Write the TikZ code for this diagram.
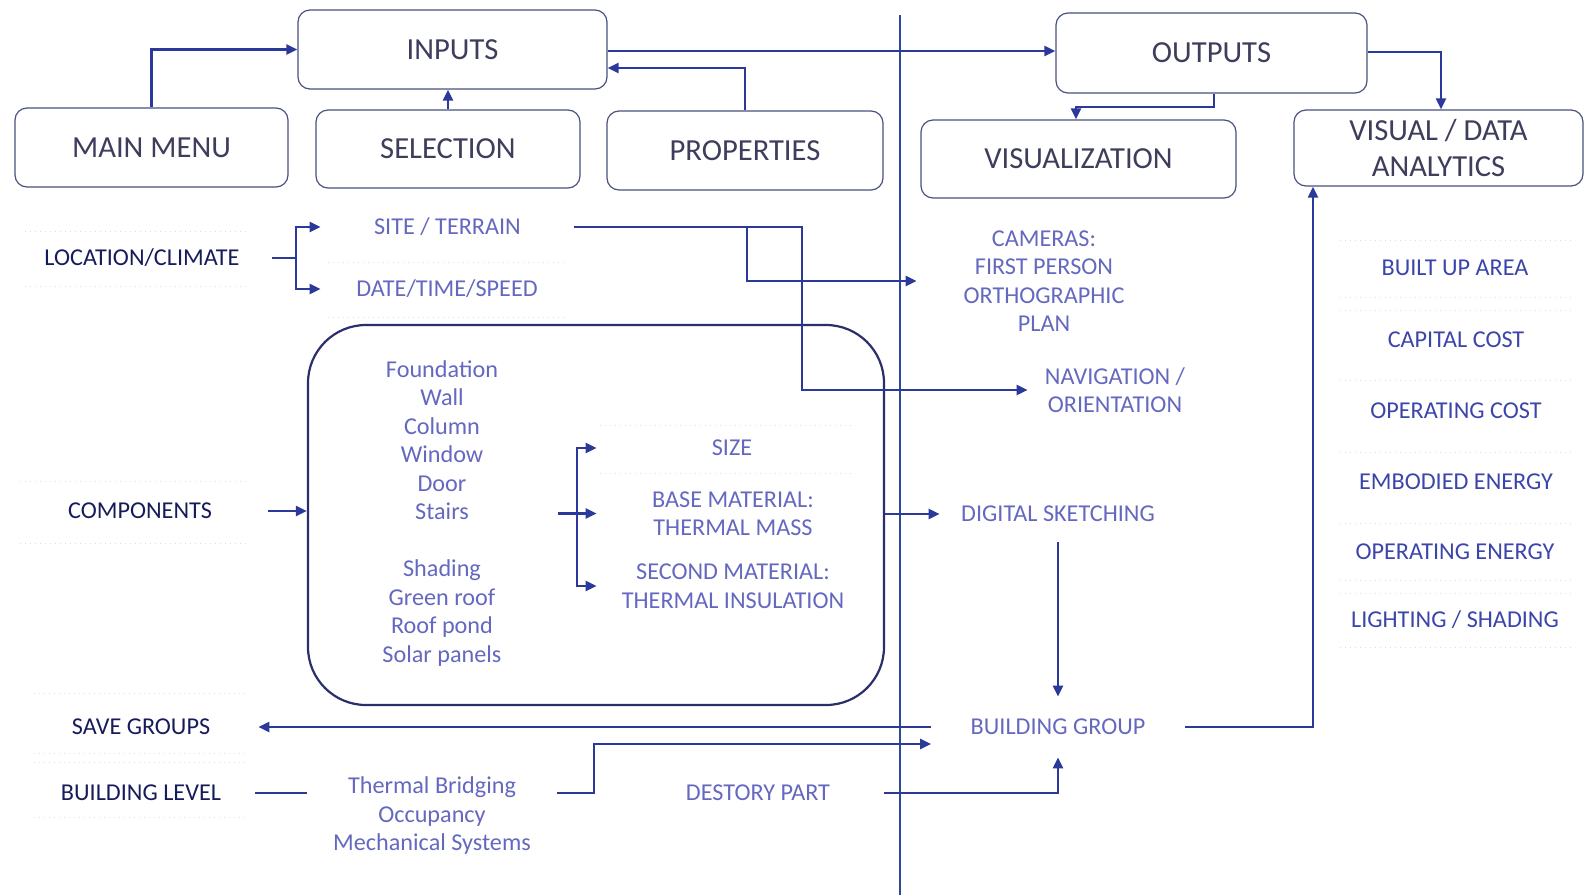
\documentclass[tikz,border=0pt]{standalone}
\usepackage{fontspec}
\setmainfont{Carlito}
\usetikzlibrary{arrows.meta}

\definecolor{boxline}{HTML}{4A5080}
\definecolor{boxtext}{HTML}{3D3D5C}
\definecolor{darklab}{HTML}{161C5A}
\definecolor{lightlab}{HTML}{6468BF}
\definecolor{metriclab}{HTML}{3B45AA}
\definecolor{conn}{HTML}{2B3A9A}
\definecolor{panelline}{HTML}{2A2F6A}
\definecolor{divider}{HTML}{2D4A9A}
\definecolor{framec}{HTML}{D8DCEE}

\tikzset{
  box/.style={draw=boxline, line width=0.6pt, rounded corners=6pt, align=center,
    inner sep=0pt, text=boxtext, font=\fontsize{15.3}{18}\selectfont},
  lab/.style={align=center, inner sep=0pt, font=\fontsize{12.1}{14.25}\selectfont},
  darklabel/.style={lab, text=darklab},
  lightlabel/.style={lab, text=lightlab},
  metric/.style={lab, text=metriclab},
  link/.style={draw=conn, line width=1.1pt},
  arr/.style={link, -{Triangle[length=5.5pt,width=5pt]}},
  panelbox/.style={draw=panelline, line width=1.1pt, rounded corners=29pt, inner sep=0pt},
  frameline/.style={draw=framec, dotted, line width=0.5pt},
}

\begin{document}
\begin{tikzpicture}[x=0.5pt, y=-0.5pt]
\useasboundingbox (0,0) rectangle (1587,895);

% faint frames of the text labels
\foreach \ya/\yb/\xa/\xb in {231/286/25/248, 481/543/20/250, 693/753/34/247, 762/817/34/247,
    262/317/328/568, 425/473/600/855}{
  \draw[frameline] (\xa,\ya) -- (\xb,\ya);
  \draw[frameline] (\xa,\yb) -- (\xb,\yb);
}
\foreach \yy in {240,297,310,380,452,523,580,593,647}{
  \draw[frameline] (1340,\yy) -- (1572,\yy);
}

% top-level boxes
\node[box, minimum width=154.5pt, minimum height=39.5pt] (inputs) at (452.5,49.5) {INPUTS};
\node[box, minimum width=136.5pt, minimum height=39.5pt] (mainmenu) at (151.5,147.5) {MAIN MENU};
\node[box, minimum width=132pt, minimum height=39pt] (selection) at (448,149) {SELECTION};
\node[box, minimum width=138pt, minimum height=39.5pt] (properties) at (745,150.5) {PROPERTIES};
\node[box, minimum width=155.5pt, minimum height=40pt] (outputs) at (1211.5,53) {OUTPUTS};
\node[box, minimum width=157.5pt, minimum height=39pt] (visualization) at (1078.5,159) {VISUALIZATION};
\node[box, minimum width=144.5pt, minimum height=38pt] (visual) at (1438.5,148) {VISUAL / DATA\\ANALYTICS};

% divider between inputs and outputs
\coordinate (divtop) at (900,15);
\coordinate (divbot) at (900,895);
\draw[draw=divider, line width=0.9pt] (divtop) -- (divbot);

% input side labels
\node[darklabel, minimum width=130pt] (loc) at (142,258) {LOCATION/CLIMATE};
\node[darklabel, minimum width=128pt] (comp) at (140,511) {COMPONENTS};
\node[darklabel, minimum width=117pt] (save) at (141,727) {SAVE GROUPS};
\node[darklabel, minimum width=114pt] (blevel) at (141,793) {BUILDING LEVEL};

\node[lightlabel, minimum width=126.5pt] (site) at (447.5,227) {SITE / TERRAIN};
\node[lightlabel, minimum width=126pt] (date) at (447,289) {DATE/TIME/SPEED};

% component panel
\node[panelbox, minimum width=288pt, minimum height=190pt] (panel) at (596,515) {};
\node[lightlabel, minimum width=116pt] (parts) at (442,513.5)
  {Foundation\\Wall\\Column\\Window\\Door\\Stairs\\[14.25pt]Shading\\Green roof\\Roof pond\\Solar panels};
\node[lightlabel, minimum width=135pt] (size) at (732,448) {SIZE};
\node[lightlabel, minimum width=136pt] (base) at (733,513.5) {BASE MATERIAL:\\THERMAL MASS};
\node[lightlabel, minimum width=136pt] (second) at (733,586) {SECOND MATERIAL:\\THERMAL INSULATION};

\node[lightlabel, minimum width=125pt] (thermal) at (432,816) {Thermal Bridging\\Occupancy\\Mechanical Systems};
\node[lightlabel, minimum width=126pt] (destroy) at (758,793) {DESTORY PART};

% output side labels
\node[lightlabel, minimum width=127pt] (cameras) at (1044,281) {CAMERAS:\\FIRST PERSON\\ORTHOGRAPHIC\\PLAN};
\node[lightlabel, minimum width=87pt] (nav) at (1115,390) {NAVIGATION /\\ORIENTATION};
\node[lightlabel, minimum width=118pt, minimum height=28pt] (digital) at (1058,514) {DIGITAL SKETCHING};
\node[lightlabel, minimum width=126.5pt, minimum height=30pt] (bgroup) at (1058,727) {BUILDING GROUP};

\node[metric] (area) at (1455,268) {BUILT UP AREA};
\node[metric] (capcost) at (1456,340) {CAPITAL COST};
\node[metric] (opcost) at (1456,411) {OPERATING COST};
\node[metric] (embodied) at (1456,482) {EMBODIED ENERGY};
\node[metric] (openergy) at (1455,552) {OPERATING ENERGY};
\node[metric] (lighting) at (1455,620) {LIGHTING / SHADING};

% top row connections
\draw[arr] (mainmenu.north) |- (inputs.west);
\draw[arr] (selection.north) -- (selection.north |- inputs.south);
\draw[arr] (properties.north) |- (inputs.east |- 0,68);
\draw[arr] (inputs.east |- 0,51) -- (outputs.west |- 0,51);
\coordinate (outjog) at (1214,107);
\draw[arr] (outputs.south -| outjog) -- (outjog) -| (visualization.north -| 1076,0);
\draw[arr] (outputs.east |- 0,52) -| (visual.north -| 1441,0);

% location / climate branch
\coordinate (locj) at (296,258);
\draw[link] (loc.east) -- (locj);
\draw[arr] (locj) |- (site.west);
\draw[arr] (locj) |- (date.west);

% site / terrain to the viewing tools
\coordinate (sitebr) at (747,227);
\coordinate (sitejog) at (802,390);
\draw[arr] (site.east) -| (sitejog) -- (nav.west);
\draw[arr] (sitebr) |- (cameras.west);

% components
\draw[arr] (comp.east) -- (panel.west |- comp.east);
\coordinate (matj) at (577,513.5);
\draw[arr] (parts.east) -- (base.west);
\draw[arr] (matj) |- (size.west);
\draw[arr] (matj) |- (second.west);
\draw[arr] (panel.east |- digital.west) -- (digital.west);

% building group
\draw[arr] (digital.south) -- (bgroup.north);
\draw[arr] (bgroup.west) -- (save.east |- bgroup.west);
\draw[link] (blevel.east) -- (thermal.west |- blevel.east);
\coordinate (thjog) at (594,793);
\draw[arr] (thermal.east |- blevel.east) -- (thjog) |- (bgroup.west |- 0,744);
\draw[arr] (destroy.east) -| (bgroup.south);
\draw[arr] (bgroup.east) -| (visual.south -| 1313,0);

\end{tikzpicture}
\end{document}
